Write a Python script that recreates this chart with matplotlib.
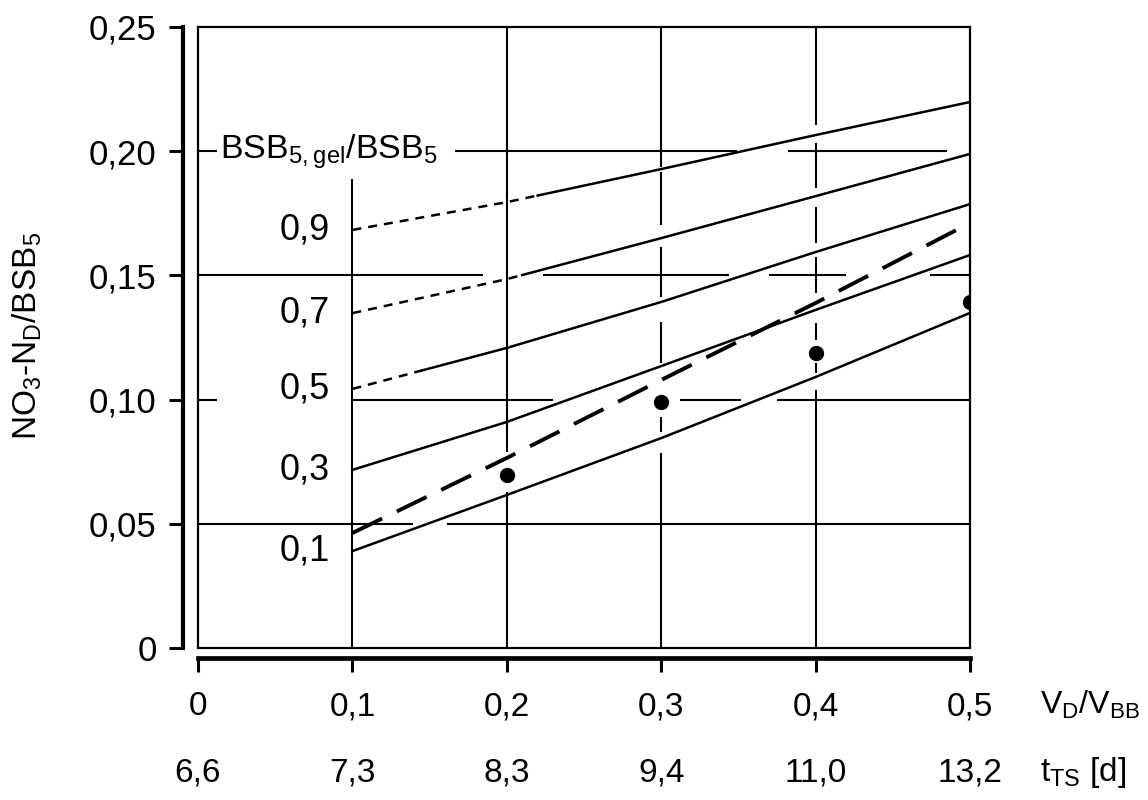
import numpy as np
import matplotlib
matplotlib.use("Agg")
from matplotlib import pyplot as plt

plt.rcParams['font.family'] = ['Liberation Sans', 'DejaVu Sans']
plt.rcParams['mathtext.fontset'] = 'custom'
plt.rcParams['mathtext.rm'] = 'Liberation Sans'

# x axis: V_D/V_BB and the matching sludge age t_TS
vd_ticks = [0.0, 0.1, 0.2, 0.3, 0.4, 0.5]
vd_labels = ["0", "0,1", "0,2", "0,3", "0,4", "0,5"]
tts_labels = ["6,6", "7,3", "8,3", "9,4", "11,0", "13,2"]

y_ticks = [0.0, 0.05, 0.10, 0.15, 0.20, 0.25]
y_labels = ["0", "0,05", "0,10", "0,15", "0,20", "0,25"]

# curves for BSB5,gel/BSB5 = 0.9 ... 0.1
x_curve = [0.1, 0.2, 0.3, 0.4, 0.5]
ratio_labels = ["0,9", "0,7", "0,5", "0,3", "0,1"]
curve_09 = [0.1683, 0.1795, 0.1928, 0.2065, 0.2198]
curve_07 = [0.1348, 0.1485, 0.1650, 0.1819, 0.1989]
curve_05 = [0.1043, 0.1208, 0.1393, 0.1594, 0.1787]
curve_03 = [0.0717, 0.0910, 0.1135, 0.1361, 0.1582]
curve_01 = [0.0390, 0.0616, 0.0845, 0.1091, 0.1349]
dotted_until = [0.22, 0.21, 0.145, None, None]   # dotted part at the left end

# thick dashed curve and measured points
dashed_curve = [0.0463, 0.0765, 0.1079, 0.1389, 0.1711]
meas_x = [0.2, 0.3, 0.4, 0.5]
meas_y = [0.0697, 0.0990, 0.1188, 0.1393]

fig = plt.figure(figsize=(11.48, 8), dpi=100)
ax = fig.add_axes([198 / 1148, 1 - 648 / 800, 772 / 1148, 621 / 800])
ax.set_xlim(0, 0.5)
ax.set_ylim(0, 0.25)

K = 'black'
FS_Y = 25      # y tick labels
FS_X = 24      # bottom labels
FS_IN = 26     # labels inside the plot

# grid lines, drawn in pieces like in the scan
h_grid = {
    0.20: [(0, 0.012), (0.1665, 0.349), (0.382, 0.485)],
    0.15: [(0, 0.1846), (0.2234, 0.344), (0.370, 0.420), (0.474, 0.5)],
    0.10: [(0, 0.012), (0.1, 0.23), (0.312, 0.352), (0.375, 0.5)],
    0.05: [(0, 0.139), (0.161, 0.5)],
}
for yv, segs in h_grid.items():
    for a, b in segs:
        ax.plot([a, b], [yv, yv], color=K, lw=1.5, solid_capstyle='butt')

v_grid = {
    0.1: [(0, 0.189)],
    0.2: [(0, 0.0628), (0.0789, 0.25)],
    0.3: [(0, 0.0785), (0.087, 0.093), (0.1147, 0.1312), (0.1413, 0.1614),
          (0.1703, 0.1916), (0.1936, 0.25)],
    0.4: [(0, 0.1039), (0.1107, 0.1147), (0.124, 0.1308), (0.1429, 0.1574),
          (0.163, 0.1775), (0.1852, 0.2033), (0.2105, 0.25)],
}
for xv, segs in v_grid.items():
    for a, b in segs:
        ax.plot([xv, xv], [a, b], color=K, lw=1.5, solid_capstyle='butt')

# inner frame
for yv in (0, 0.25):
    ax.axhline(yv, color=K, lw=1.6, clip_on=False)
for xv in (0, 0.5):
    ax.axvline(xv, color=K, lw=1.6, clip_on=False)

# family of curves
curves = [curve_09, curve_07, curve_05, curve_03, curve_01]
for ys, lab, cut in zip(curves, ratio_labels, dotted_until):
    if cut is None:
        ax.plot(x_curve, ys, color=K, lw=1.8)
    else:
        y_cut = np.interp(cut, x_curve, ys)
        xs_d = [x for x in x_curve if x < cut] + [cut]
        ys_d = [y for x, y in zip(x_curve, ys) if x < cut] + [y_cut]
        xs_s = [cut] + [x for x in x_curve if x > cut]
        ys_s = [y_cut] + [y for x, y in zip(x_curve, ys) if x > cut]
        ax.plot(xs_d, ys_d, color=K, lw=1.8, linestyle=(0, (3.6, 2.8)))
        ax.plot(xs_s, ys_s, color=K, lw=1.8)
    ax.annotate(lab, xy=(x_curve[0], ys[0]), xytext=(-16, 0),
                textcoords='offset points', ha='right', va='center', fontsize=FS_IN)

ax.plot(x_curve, dashed_curve, color=K, lw=2.8, linestyle=(0, (8.5, 4.2)))
ax.plot(meas_x, meas_y, 'o', color=K, ms=10)

ax.text(0.0142, 0.20, r"BSB$_\mathregular{5,gel}$/BSB$_\mathregular{5}$",
        ha='left', va='center', fontsize=24.5)

# outer axes
for s in ('top', 'right'):
    ax.spines[s].set_visible(False)
ax.spines['left'].set_position(('outward', 10.8))
ax.spines['bottom'].set_position(('outward', 7.2))
ax.spines['left'].set_linewidth(3.0)
ax.spines['bottom'].set_linewidth(3.4)

ax.set_yticks(y_ticks)
ax.set_yticklabels(y_labels)
ax.set_xticks(vd_ticks)
ax.set_xticklabels(vd_labels)
ax.tick_params(axis='y', direction='out', length=10, width=2.2, pad=9, labelsize=FS_Y)
ax.tick_params(axis='x', direction='out', length=10, width=2.2, pad=14, labelsize=FS_X)

for x, lab in zip(vd_ticks, tts_labels):
    ax.annotate(lab, xy=(x, 0), xycoords=('data', 'axes fraction'),
                xytext=(0, -90), textcoords='offset points',
                ha='center', va='center', fontsize=FS_X)

ax.annotate(r"V$_\mathregular{D}$/V$_\mathregular{BB}$", xy=(0.5453, 0),
            xycoords=('data', 'axes fraction'), xytext=(0, -41),
            textcoords='offset points', ha='left', va='center', fontsize=23,
            annotation_clip=False)
ax.annotate(r"t$_\mathregular{TS}$ [d]", xy=(0.5453, 0),
            xycoords=('data', 'axes fraction'), xytext=(0, -90),
            textcoords='offset points', ha='left', va='center', fontsize=FS_X,
            annotation_clip=False)

ax.set_ylabel(r"NO$_\mathregular{3}$-N$_\mathregular{D}$/BSB$_\mathregular{5}$",
              fontsize=24)
ax.yaxis.set_label_coords(-0.200, 0.5024)

fig.savefig("out.png", dpi=100)
